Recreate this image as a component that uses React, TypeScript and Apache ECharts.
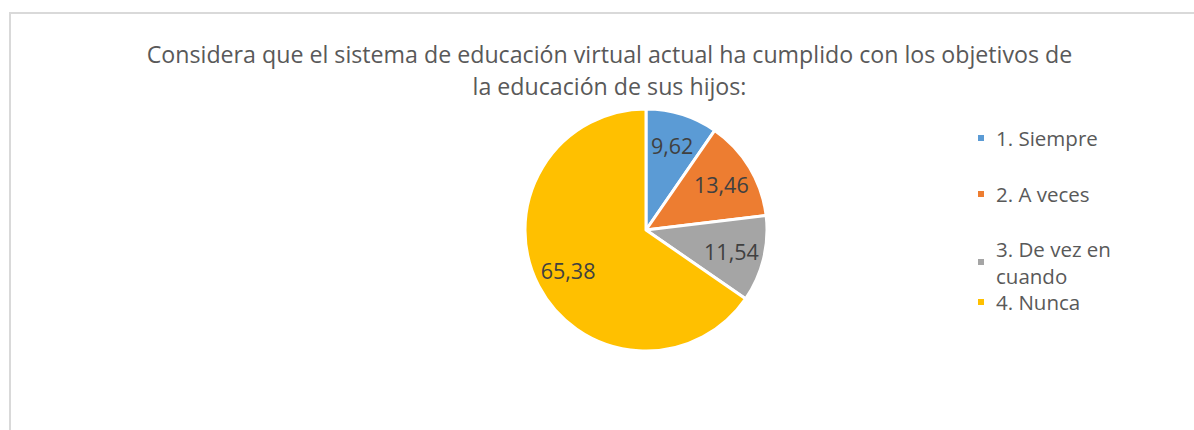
import React, { useEffect, useRef } from "react";
import * as echarts from "echarts";

const titleLines = [
  "Considera que el sistema de educación virtual actual ha cumplido con los objetivos de",
  "la educación de sus hijos:",
];
const categories = ["1. Siempre", "2. A veces", "3. De vez en cuando", "4. Nunca"];
const legendLabels = ["1. Siempre", "2. A veces", "3. De vez en\ncuando", "4. Nunca"];
const values = [9.62, 13.46, 11.54, 65.38];
const colors = ["#5B9BD5", "#ED7D31", "#A5A5A5", "#FFC000"];

const FONT = "'Open Sans', sans-serif";

export default function App() {
  const ref = useRef<HTMLDivElement>(null);
  useEffect(() => {
    document.body.style.margin = "0";
    const chart = echarts.init(ref.current!, null, { renderer: "svg" });
    const data = categories.map((name, i) => ({
      name,
      value: values[i],
      itemStyle: { color: colors[i] },
    }));
    const center = [646, 230];
    const legendCenters = [138, 194, 262, 302];
    const legends = categories.map((name, i) => {
      const multi = legendLabels[i].includes("\n");
      return {
        data: [name],
        orient: "vertical" as const,
        left: 976,
        top: multi ? legendCenters[i] - 40.5 : legendCenters[i] - 13.5,
        padding: 0,
        itemWidth: 8,
        itemHeight: 8,
        icon: "rect",
        selectedMode: false,
        formatter: () => legendLabels[i],
        textStyle: {
          fontFamily: FONT,
          fontSize: 20.5,
          color: "#595959",
          lineHeight: 27,
          padding: multi ? [27, 0, 0, 6] : [0, 0, 0, 6],
        },
      };
    });
    chart.setOption({
      animation: false,
      backgroundColor: "#ffffff",
      legend: legends,
      graphic: [
        {
          type: "rect",
          shape: { x: 10, y: 13, width: 1400, height: 700 },
          style: { fill: "none", stroke: "#D9D9D9", lineWidth: 2 },
          silent: true,
          z: -10,
        },
        {
          type: "text",
          x: 609.5,
          y: 38,
          style: {
            text: titleLines.join("\n"),
            textAlign: "center",
            textVerticalAlign: "top",
            fontFamily: FONT,
            fontSize: 23.2,
            lineHeight: 32,
            fill: "#595959",
          },
        },
      ],
      series: [
        {
          type: "pie",
          center,
          radius: 121,
          startAngle: 90,
          clockwise: true,
          data,
          label: { show: false },
          labelLine: { show: false },
          itemStyle: { borderColor: "#ffffff", borderWidth: 3 },
          emphasis: { disabled: true },
        },
        {
          type: "pie",
          center,
          radius: 170,
          startAngle: 90,
          clockwise: true,
          silent: true,
          data: categories.map((name, i) => ({
            name,
            value: values[i],
            itemStyle: { color: "rgba(0,0,0,0)" },
          })),
          itemStyle: { borderWidth: 0 },
          label: {
            show: true,
            position: "inside",
            formatter: (p: any) => p.value.toFixed(2).replace(".", ","),
            fontFamily: FONT,
            fontSize: 21.5,
            color: "#404040",
          },
          labelLine: { show: false },
          emphasis: { disabled: true },
        },
      ],
    });
    return () => chart.dispose();
  }, []);
  return (
    <div
      ref={ref}
      style={{ position: "absolute", left: 0, top: 0, width: 1194, height: 430 }}
    />
  );
}
